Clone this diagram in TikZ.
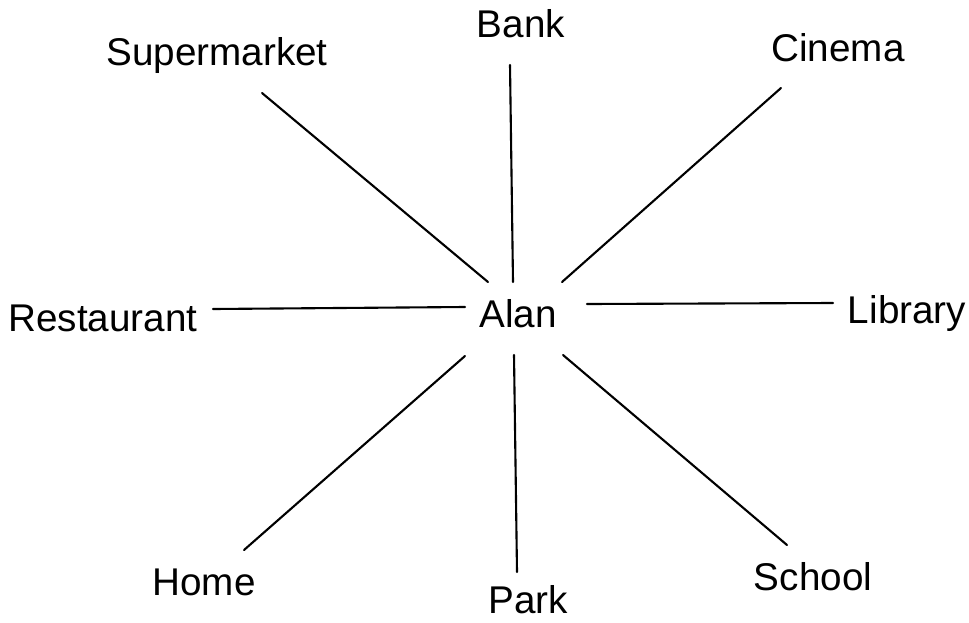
\documentclass[tikz,border=0pt]{standalone}
\usepackage{fontspec}
\setmainfont{Liberation Sans}
\usepackage{tikz}
\usetikzlibrary{positioning,calc}

\begin{document}
\begin{tikzpicture}[x=0.02cm,y=-0.02cm,
    place/.style={font=\fontsize{22}{26}\selectfont,anchor=base,inner sep=0pt},
    spoke/.style={line width=1.2pt,line cap=round}]
    \useasboundingbox (0,0) rectangle (969,622);

    % centre and places
    \node[place] (alan) at (518,327) {Alan};
    \node[place] (supermarket) at (217,65) {Supermarket};
    \node[place] (bank) at (521,37) {Bank};
    \node[place] (cinema) at (838,61) {Cinema};
    \node[place] (restaurant) at (103,331) {Restaurant};
    \node[place] (library) at (907,323) {Library};
    \node[place] (home) at (204,595) {Home};
    \node[place] (park) at (528,613) {Park};
    \node[place] (school) at (813,590) {School};

    % ends of the spokes
    \coordinate (supermarket-a) at (262,93);  \coordinate (supermarket-b) at (488,282);
    \coordinate (bank-a) at (510,65);         \coordinate (bank-b) at (513,282);
    \coordinate (cinema-a) at (781,88);       \coordinate (cinema-b) at (562,282);
    \coordinate (restaurant-a) at (213,309);  \coordinate (restaurant-b) at (465,307);
    \coordinate (library-a) at (833,303);     \coordinate (library-b) at (587,304);
    \coordinate (home-a) at (244,550);        \coordinate (home-b) at (465,356);
    \coordinate (park-a) at (517,572);        \coordinate (park-b) at (514,355);
    \coordinate (school-a) at (787,545);      \coordinate (school-b) at (563,355);

    \foreach \p in {supermarket,bank,cinema,restaurant,library,home,park,school} {
        \draw[spoke] (\p-a) -- (\p-b);
    }
\end{tikzpicture}
\end{document}
